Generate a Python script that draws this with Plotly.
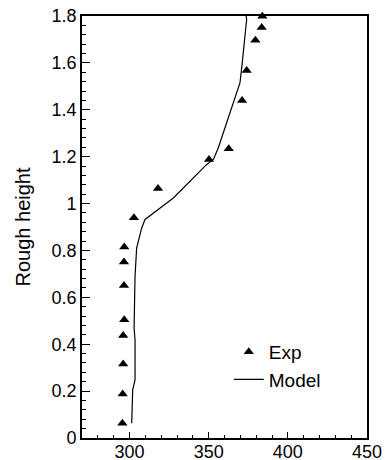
import plotly.graph_objects as go

# Experimental points
exp_x = [295.5, 295.7, 296.0, 296.0, 296.7, 296.5, 296.5, 296.7, 302.8, 318.0,
         350.2, 362.7, 371.1, 374.0, 379.5, 383.5, 383.9]
exp_y = [0.063, 0.188, 0.316, 0.437, 0.504, 0.651, 0.751, 0.815, 0.939, 1.064,
         1.188, 1.234, 1.440, 1.568, 1.697, 1.751, 1.799]

# Model curve
model_x = [301.4, 302.0, 303.5, 303.5, 302.9, 303.5, 304.5, 307.7, 309.8, 327.7,
           348.8, 353.0, 356.1, 359.3, 369.8, 371.0, 373.0, 374.0, 373.6]
model_y = [0.063, 0.205, 0.248, 0.419, 0.469, 0.690, 0.810, 0.896, 0.932, 1.024,
           1.167, 1.188, 1.238, 1.302, 1.516, 1.587, 1.730, 1.786, 1.800]

x_range = [270, 450]
y_range = [0, 1.8]
x_ticks = [300, 350, 400, 450]
y_ticks = [0, 0.2, 0.4, 0.6, 0.8, 1.0, 1.2, 1.4, 1.6, 1.8]
y_ticklabels = ["0", "0.2", "0.4", "0.6", "0.8", "1", "1.2", "1.4", "1.6", "1.8"]

FONT = "Liberation Sans, Arial, Helvetica, sans-serif"
FS = 18

fig = go.Figure()
fig.add_trace(go.Scatter(
    x=exp_x, y=exp_y, mode="markers", name="Exp",
    marker=dict(symbol="triangle-up", size=9, color="black"),
    cliponaxis=False,
))
fig.add_trace(go.Scatter(
    x=model_x, y=model_y, mode="lines", name="Model",
    line=dict(color="black", width=1.2),
))

fig.update_layout(
    width=385, height=460,
    margin=dict(l=82, r=18, t=16, b=22, pad=0),
    paper_bgcolor="white", plot_bgcolor="white",
    font=dict(family=FONT, size=FS, color="black"),
    showlegend=True,
    legend=dict(
        x=0.515, y=0.249, xanchor="left", yanchor="top",
        bgcolor="rgba(0,0,0,0)", borderwidth=0,
        font=dict(size=19), tracegroupgap=0,
    ),
)
fig.update_xaxes(
    range=x_range, tickvals=x_ticks, ticks="inside", ticklen=6, tickwidth=1.3,
    tickcolor="black", showline=True, linecolor="black", linewidth=1.8, mirror=True,
    showgrid=False, zeroline=False, automargin=False,
    tickfont=dict(size=FS), ticklabelstandoff=-4,
    minor=dict(dtick=10, ticks="inside", ticklen=3, tickwidth=1, tickcolor="black", showgrid=False),
)
fig.update_yaxes(
    range=y_range, tickvals=y_ticks, ticktext=y_ticklabels, ticks="inside",
    ticklen=8, tickwidth=1.3, tickcolor="black",
    showline=True, linecolor="black", linewidth=1.8, mirror=True,
    showgrid=False, zeroline=False, automargin=False,
    tickfont=dict(size=FS),
    title=dict(text="Rough height", font=dict(size=20), standoff=15),
    minor=dict(dtick=0.04, tick0=0, ticks="inside", ticklen=4, tickwidth=1, tickcolor="black", showgrid=False),
)

fig.write_html("out.html", config={"displayModeBar": False},
               post_script="document.body.style.margin='0px';")
